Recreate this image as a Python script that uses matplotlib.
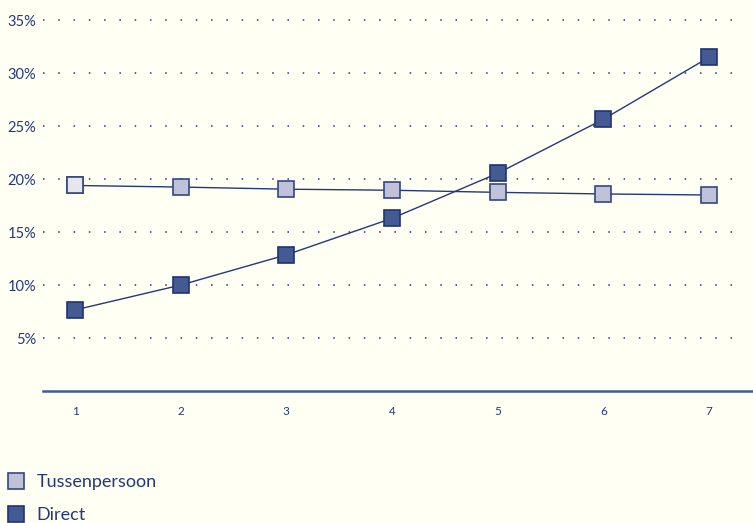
import matplotlib
matplotlib.use("Agg")
import matplotlib.pyplot as plt
from matplotlib.lines import Line2D

plt.rcParams['font.family'] = ['Lato', 'DejaVu Sans']

# gegevens
jaren = [1, 2, 3, 4, 5, 6, 7]
tussenpersoon = [19.4, 19.25, 19.05, 18.95, 18.75, 18.6, 18.5]
direct = [7.65, 10.0, 12.85, 16.3, 20.55, 25.65, 31.5]
yticks = [5, 10, 15, 20, 25, 30, 35]
ytick_labels = ["5%", "10%", "15%", "20%", "25%", "30%", "35%"]

bg = '#fffff4'
donker = '#22397a'
licht = '#c0c2d9'
blauw = '#435a93'

fig = plt.figure(figsize=(7.53, 5.23), dpi=100, facecolor=bg)
ax = fig.add_axes([0.0571, 0.2524, 0.9429, 0.728])
ax.set_facecolor(bg)

# stippellijnen
for y in yticks:
    ax.axhline(y, color=donker, linestyle=(0, (1, 9.0)), linewidth=1.1, xmax=0.98, zorder=1)

ax.plot(jaren, tussenpersoon, color=donker, linewidth=1, marker='s', markersize=11,
        markerfacecolor=licht, markeredgecolor='#33487f', markeredgewidth=1.2, zorder=3)
# eerste marker lichter
ax.plot(jaren[:1], tussenpersoon[:1], linestyle='none', marker='s', markersize=11,
        markerfacecolor='#e6e6ee', markeredgecolor='#33487f', markeredgewidth=1.2, zorder=4)
ax.plot(jaren, direct, color=donker, linewidth=1, marker='s', markersize=11,
        markerfacecolor=blauw, markeredgecolor='#1f3370', markeredgewidth=1.2, zorder=3)

ax.set_xlim(0.697, 7.416)
ax.set_ylim(0, 35.94)

for s in ['top', 'right', 'left']:
    ax.spines[s].set_visible(False)
ax.spines['bottom'].set_color(blauw)
ax.spines['bottom'].set_linewidth(1.8)

ax.set_xticks(jaren)
ax.set_xticklabels([str(j) for j in jaren], fontsize=8.5, color=donker)
ax.set_yticks(yticks)
ax.set_yticklabels(ytick_labels, fontsize=10.5, color=donker)
ax.tick_params(axis='both', length=0)
ax.tick_params(axis='x', pad=11)
ax.tick_params(axis='y', pad=5)

handles = [
    Line2D([], [], linestyle='none', marker='s', markersize=11,
           markerfacecolor=licht, markeredgecolor='#33487f', markeredgewidth=1.2),
    Line2D([], [], linestyle='none', marker='s', markersize=11,
           markerfacecolor=blauw, markeredgecolor='#1f3370', markeredgewidth=1.2),
]
leg = fig.legend(handles, ['Tussenpersoon', 'Direct'], loc='lower left',
                 bbox_to_anchor=(-0.013, -0.031), frameon=False, fontsize=13,
                 handletextpad=0.55, labelspacing=0.92, handlelength=1.1)
for t in leg.get_texts():
    t.set_color(donker)

fig.savefig('out.png', dpi=100, facecolor=bg)
